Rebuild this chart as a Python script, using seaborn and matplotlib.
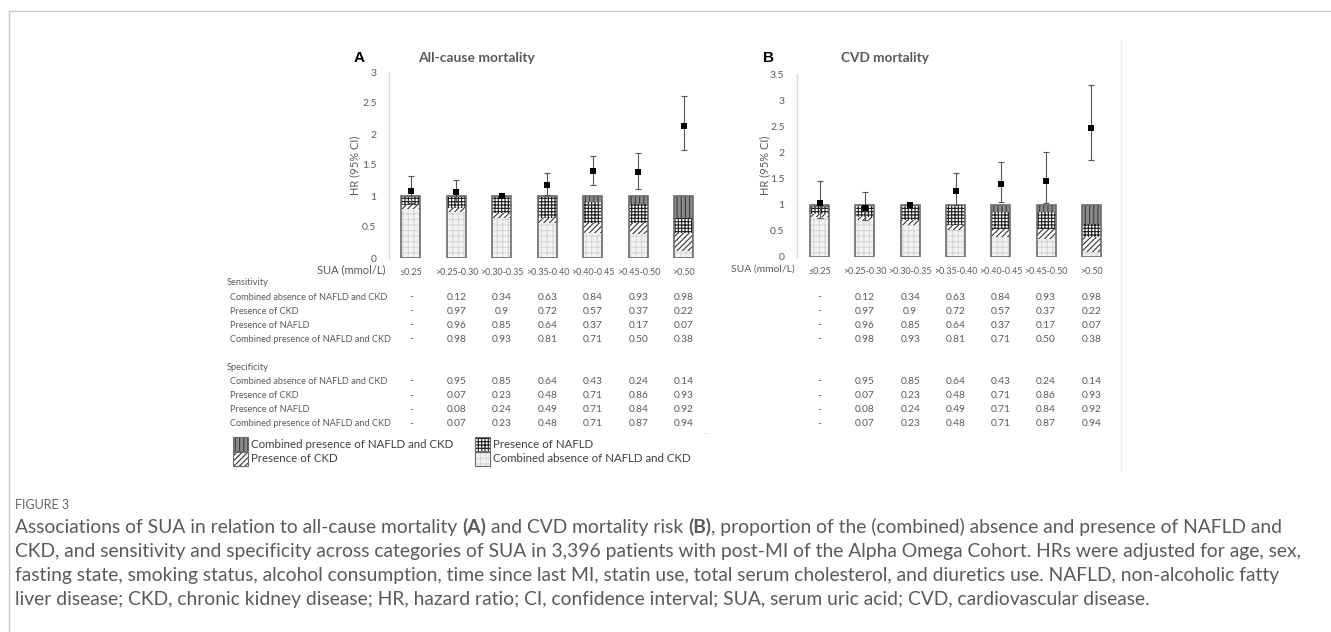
import numpy as np
import pandas as pd
import seaborn as sns
import matplotlib.pyplot as plt
import matplotlib.transforms as mtransforms
from matplotlib.patches import Rectangle
from matplotlib.lines import Line2D

# ---- data ----
sua = ['≤0.25', '>0.25-0.30', '>0.30-0.35', '>0.35-0.40', '>0.40-0.45', '>0.45-0.50', '>0.50']

# stacked proportions, bottom -> top
a_absence = [0.79, 0.74, 0.64, 0.56, 0.41, 0.38, 0.12]
a_ckd = [0.06, 0.06, 0.08, 0.08, 0.16, 0.18, 0.29]
a_nafld = [0.13, 0.19, 0.26, 0.34, 0.33, 0.31, 0.23]
a_both = [0.02, 0.01, 0.02, 0.02, 0.10, 0.13, 0.36]

b_absence = [0.77, 0.71, 0.62, 0.52, 0.38, 0.35, 0.10]
b_ckd = [0.06, 0.06, 0.09, 0.10, 0.15, 0.18, 0.29]
b_nafld = [0.13, 0.21, 0.27, 0.36, 0.34, 0.33, 0.24]
b_both = [0.04, 0.02, 0.02, 0.02, 0.13, 0.14, 0.37]

# hazard ratios with 95% CI
a_hr = [1.08, 1.07, 1.00, 1.18, 1.40, 1.38, 2.13]
a_lo = [0.88, 0.90, 1.00, 1.01, 1.18, 1.12, 1.75]
a_hi = [1.32, 1.26, 1.00, 1.37, 1.65, 1.70, 2.61]

b_hr = [1.03, 0.94, 1.00, 1.27, 1.40, 1.45, 2.46]
b_lo = [0.75, 0.70, 1.00, 1.00, 1.06, 1.03, 1.85]
b_hi = [1.45, 1.24, 1.00, 1.61, 1.82, 2.00, 3.29]

row_names = ['Combined absence of NAFLD and CKD', 'Presence of CKD',
             'Presence of NAFLD', 'Combined presence of NAFLD and CKD']
sens_absence = ['-', '0.12', '0.34', '0.63', '0.84', '0.93', '0.98']
sens_ckd = ['-', '0.97', '0.9', '0.72', '0.57', '0.37', '0.22']
sens_nafld = ['-', '0.96', '0.85', '0.64', '0.37', '0.17', '0.07']
sens_both = ['-', '0.98', '0.93', '0.81', '0.71', '0.50', '0.38']
spec_absence = ['-', '0.95', '0.85', '0.64', '0.43', '0.24', '0.14']
spec_ckd = ['-', '0.07', '0.23', '0.48', '0.71', '0.86', '0.93']
spec_nafld = ['-', '0.08', '0.24', '0.49', '0.71', '0.84', '0.92']
spec_both = ['-', '0.07', '0.23', '0.48', '0.71', '0.87', '0.94']

caption_lines = [
    [("Associations of SUA in relation to all-cause mortality", "normal"), ("(A)", "bold"),
     ("and CVD mortality risk", "normal"), ("(B)", "bold"),
     (", proportion of the (combined) absence and presence of NAFLD and", "normal")],
    [("CKD, and sensitivity and specificity across categories of SUA in 3,396 patients with post-MI of the Alpha Omega Cohort. HRs were adjusted for age, sex,", "normal")],
    [("fasting state, smoking status, alcohol consumption, time since last MI, statin use, total serum cholesterol, and diuretics use. NAFLD, non-alcoholic fatty", "normal")],
    [("liver disease; CKD, chronic kidney disease; HR, hazard ratio; CI, confidence interval; SUA, serum uric acid; CVD, cardiovascular disease.", "normal")],
]

# ---- style ----
sns.set_theme(style='white')
plt.rcParams['font.family'] = ['Lato', 'DejaVu Sans']
plt.rcParams['hatch.linewidth'] = 0.8
GREY = '#595959'

W, H = 1331, 632
fig = plt.figure(figsize=(W / 100, H / 100), dpi=100)
fig.patch.set_facecolor('white')


def fx(x):
    return x / W


def fy(y):
    return 1 - y / H


# segment styles: (facecolor, hatch colour, hatch)
seg_styles = [('#f3f3f3', '#d6d6d6', '+++'),
              ('white', '#333333', '//////'),
              ('white', '#1e1e1e', '+++++'),
              ('#8a8a8a', '#3c3c3c', '||||')]


def stacked(ax, layers):
    bottom = np.zeros(len(sua))
    for vals, (fc, hc, hatch) in zip(layers, seg_styles):
        n0 = len(ax.patches)
        df = pd.DataFrame({'sua': sua, 'v': vals})
        sns.barplot(data=df, x='sua', y='v', order=sua, bottom=bottom, width=0.42,
                    errorbar=None, saturation=1, color=fc, ax=ax)
        for p in ax.patches[n0:]:
            p.set_facecolor(fc)
            p.set_edgecolor(hc)
            p.set_linewidth(0)
            p.set_hatch(hatch)
        bottom = bottom + np.array(vals)
    n0 = len(ax.patches)
    sns.barplot(x=sua, y=bottom, order=sua, width=0.42, errorbar=None, ax=ax)
    for p in ax.patches[n0:]:
        p.set_facecolor('none')
        p.set_edgecolor('#6c6c6c')
        p.set_linewidth(1.2)


def hr_points(ax, hr, lo, hi):
    pos = np.arange(len(sua))
    hr = np.array(hr)
    yerr = [hr - np.array(lo), np.array(hi) - hr]
    ax.errorbar(pos, hr, yerr=yerr, fmt='none', ecolor='#555555', elinewidth=0.8,
                capsize=2, capthick=0.8, zorder=4)
    sns.scatterplot(x=pos, y=hr, marker='s', color='black', s=14, linewidth=0,
                    ax=ax, zorder=5)


def style_axes(ax, ymax, lab_off):
    ax.set_ylim(0, ymax)
    ticks = np.arange(0, ymax + 0.01, 0.5)
    ax.set_yticks(ticks)
    ax.set_yticklabels([f'{t:g}' for t in ticks])
    ax.set_xticks(range(len(sua)))
    ax.set_xticklabels(sua)
    ax.set_xlabel('')
    ax.set_ylabel('HR (95% CI)', fontsize=8, color=GREY)
    ax.yaxis.set_label_coords(lab_off, 0.5)
    ax.tick_params(axis='y', length=0, pad=9, labelsize=7.5, labelcolor=GREY)
    ax.tick_params(axis='x', length=0, pad=7, labelsize=6.4, labelcolor=GREY)
    for s in ['top', 'right', 'bottom']:
        ax.spines[s].set_visible(False)
    ax.spines['left'].set_color('#d9d9d9')
    ax.spines['left'].set_linewidth(1)
    ax.set_facecolor('none')


# ---- panel A ----
axA = fig.add_axes([fx(389), fy(258), 318 / W, 186 / H])
stacked(axA, [a_absence, a_ckd, a_nafld, a_both])
hr_points(axA, a_hr, a_lo, a_hi)
axA.set_xlim(-0.48, 6.51)
style_axes(axA, 3, -29 / 318)

# ---- panel B ----
axB = fig.add_axes([fx(797), fy(257), 317 / W, 183 / H])
stacked(axB, [b_absence, b_ckd, b_nafld, b_both])
hr_points(axB, b_hr, b_lo, b_hi)
axB.set_xlim(-0.5, 6.5)
style_axes(axB, 3.5, -27 / 317)

# panel letters and titles
fig.text(fx(359), fy(58), 'A', fontsize=11, fontweight='bold', color='black',
         family='Liberation Sans', ha='center', va='center')
fig.text(fx(477), fy(58), 'All-cause mortality', fontsize=10, fontweight='bold',
         color=GREY, ha='center', va='center')
fig.text(fx(768), fy(58), 'B', fontsize=11, fontweight='bold', color='black',
         family='Liberation Sans', ha='center', va='center')
fig.text(fx(885), fy(58), 'CVD mortality', fontsize=9.8, fontweight='bold',
         color=GREY, ha='center', va='center')

fig.text(fx(386), fy(270), 'SUA (mmol/L)', fontsize=8, color=GREY, ha='right', va='center')
fig.text(fx(795), fy(269), 'SUA (mmol/L)', fontsize=7.5, color=GREY, ha='right', va='center')

# ---- sensitivity / specificity tables ----
sens_rows = [sens_absence, sens_ckd, sens_nafld, sens_both]
spec_rows = [spec_absence, spec_ckd, spec_nafld, spec_both]
sens_y = [297, 311, 325, 339]
spec_y = [381, 395.5, 409.5, 424]

fig.text(fx(227), fy(283), 'Sensitivity', fontsize=6.7, color=GREY, va='center')
fig.text(fx(227), fy(367), 'Specificity', fontsize=6.7, color=GREY, va='center')
for name, yp in zip(row_names * 2, sens_y + spec_y):
    fig.text(fx(230), fy(yp), name, fontsize=6.6, color=GREY, va='center')

for ax in (axA, axB):
    tr = mtransforms.blended_transform_factory(ax.transData, fig.transFigure)
    for rows, ys in ((sens_rows, sens_y), (spec_rows, spec_y)):
        for row, yp in zip(rows, ys):
            for i, v in enumerate(row):
                ax.text(i, fy(yp), v, transform=tr, fontsize=7.3, color=GREY,
                        ha='center', va='center', clip_on=False)
fig.text(fx(706), fy(431), '.', fontsize=6, color='#888888', ha='center', va='center')

# ---- legend ----
legend_items = [('Combined presence of NAFLD and CKD', 3, 233, 444),
                ('Presence of CKD', 1, 233, 459),
                ('Presence of NAFLD', 2, 475, 444),
                ('Combined absence of NAFLD and CKD', 0, 475, 459)]
for label, k, x0, yc in legend_items:
    fc, hc, hatch = seg_styles[k]
    fig.add_artist(Rectangle((fx(x0), fy(yc + 7)), 15 / W, 14 / H, transform=fig.transFigure,
                             facecolor=fc, edgecolor=hc, hatch=hatch, linewidth=0))
    fig.add_artist(Rectangle((fx(x0), fy(yc + 7)), 15 / W, 14 / H, transform=fig.transFigure,
                             facecolor='none', edgecolor='#6c6c6c', linewidth=0.8))
    fig.text(fx(x0 + 18), fy(yc), label, fontsize=8.3, color='#404040', va='center')

# ---- frame lines ----
fig.add_artist(Line2D([fx(9), 1], [fy(11), fy(11)], transform=fig.transFigure,
                      color='#c8c8c8', lw=1))
fig.add_artist(Line2D([fx(9), fx(9)], [fy(11), 0], transform=fig.transFigure,
                      color='#c8c8c8', lw=1))
fig.add_artist(Line2D([fx(1121), fx(1121)], [fy(40), fy(470)], transform=fig.transFigure,
                      color='#eeeeee', lw=1))

# ---- caption ----
CAP = '#5a5a5a'
cap_size = 13.9
fig.text(fx(15), fy(505), 'FIGURE 3', fontsize=9, color='#666666', va='center')

renderer = fig.canvas.get_renderer()


def text_width(s, weight):
    t = fig.text(0, 0, s, fontsize=cap_size, fontweight=weight)
    w = t.get_window_extent(renderer).width
    t.remove()
    return w


space_w = text_width('a a', 'normal') - text_width('aa', 'normal')
for line, yc in zip(caption_lines, [527, 551, 575, 599]):
    x = 15
    for j, (s, weight) in enumerate(line):
        fig.text(fx(x), fy(yc), s, fontsize=cap_size, fontweight=weight, color=CAP, va='center')
        x += text_width(s, weight)
        if j + 1 < len(line) and not line[j + 1][0].startswith(','):
            x += space_w

fig.savefig('out.png', dpi=100)
